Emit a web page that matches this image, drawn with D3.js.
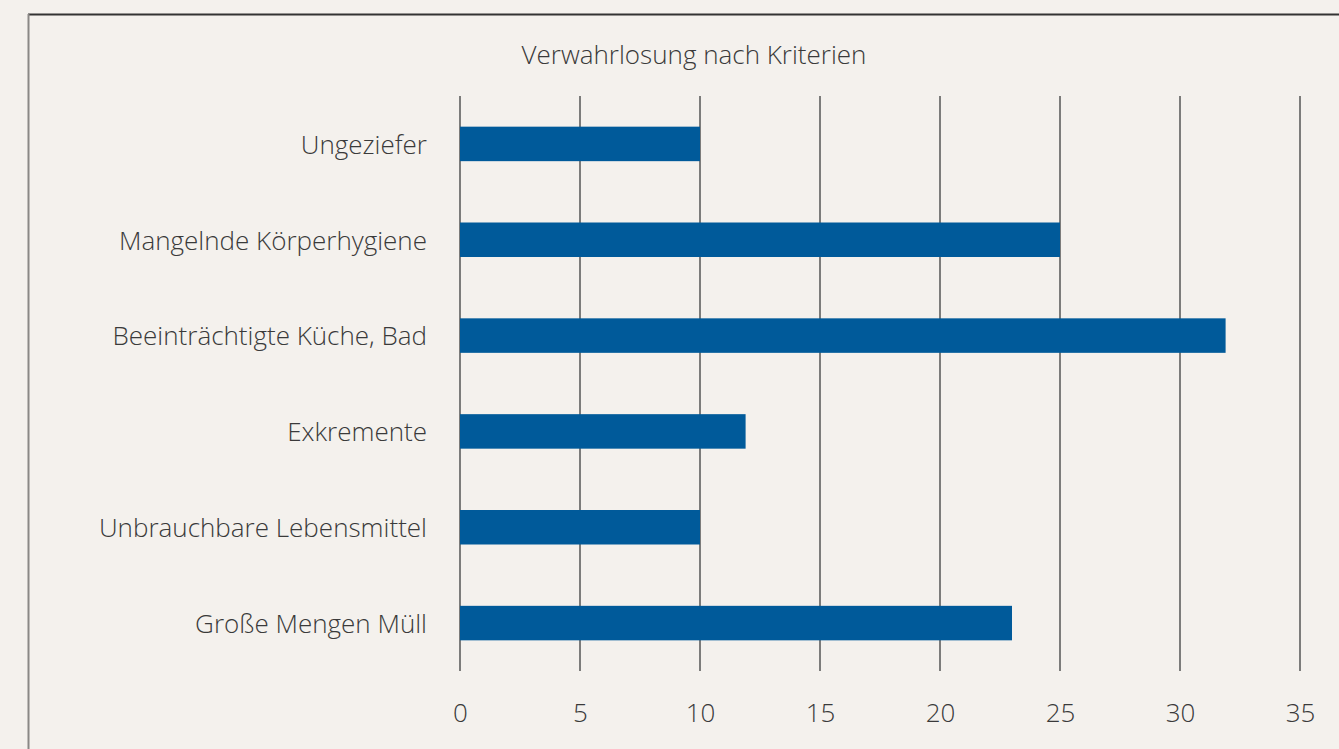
<!DOCTYPE html>
<html>
<head>
<meta charset="utf-8">
<script src="https://cdn.jsdelivr.net/npm/d3@7"></script>
<style>
  body { margin: 0; background: #f4f1ed; }
  svg text { font-family: "Open Sans", sans-serif; font-weight: 300; fill: #3a3a3a; }
</style>
</head>
<body>
<svg></svg>
<script>
// Data
const categories = [
  "Ungeziefer",
  "Mangelnde Körperhygiene",
  "Beeinträchtigte Küche, Bad",
  "Exkremente",
  "Unbrauchbare Lebensmittel",
  "Große Mengen Müll"
];
const values = [10, 25, 31.9, 11.9, 10, 23];
const xTicks = [0, 5, 10, 15, 20, 25, 30, 35];
const title = "Verwahrlosung nach Kriterien";

const width = 1339, height = 749;
const svg = d3.select("svg").attr("width", width).attr("height", height);

svg.append("rect").attr("width", width).attr("height", height).attr("fill", "#f4f1ed");

// frame lines (top + left)
svg.append("line").attr("x1", 28).attr("x2", width).attr("y1", 14.5).attr("y2", 14.5)
  .attr("stroke", "#333").attr("stroke-width", 2);
svg.append("line").attr("x1", 28.5).attr("x2", 28.5).attr("y1", 14).attr("y2", height)
  .attr("stroke", "#8a8886").attr("stroke-width", 2);

// Scales
const xScale = d3.scaleLinear().domain([0, 35]).range([460, 1300]);
const yScale = d3.scaleBand().domain(categories).range([96, 671])
  .paddingInner(0.64).paddingOuter(0.32);

// Title
svg.append("text").attr("x", 694).attr("y", 64).attr("text-anchor", "middle")
  .style("font-size", "26px").text(title);

// Grid lines
svg.append("g").selectAll("line.grid")
  .data(xTicks)
  .enter().append("line")
  .attr("class", "grid")
  .attr("x1", d => xScale(d)).attr("x2", d => xScale(d))
  .attr("y1", 96).attr("y2", 671)
  .attr("stroke", "#555").attr("stroke-width", 1.5);

// Bars
svg.append("g").selectAll("rect.bar")
  .data(values)
  .enter().append("rect")
  .attr("class", "bar")
  .attr("x", xScale(0))
  .attr("y", (d, i) => yScale(categories[i]))
  .attr("width", d => xScale(d) - xScale(0))
  .attr("height", yScale.bandwidth())
  .attr("fill", "#005a9a");

// X axis labels
const xAxis = svg.append("g")
  .attr("transform", "translate(0,713)")
  .call(d3.axisBottom(xScale).tickValues(xTicks).tickSize(0).tickPadding(0));
xAxis.select(".domain").remove();
xAxis.selectAll("text")
  .attr("dy", "0.35em")
  .style("font-size", "26px").style("font-family", null).attr("fill", null);

// Y axis labels
const yAxis = svg.append("g")
  .attr("transform", "translate(427,1.5)")
  .call(d3.axisLeft(yScale).tickSize(0).tickPadding(0));
yAxis.select(".domain").remove();
yAxis.selectAll("text")
  .style("font-size", "26px").style("font-family", null).attr("fill", null);
</script>
</body>
</html>
